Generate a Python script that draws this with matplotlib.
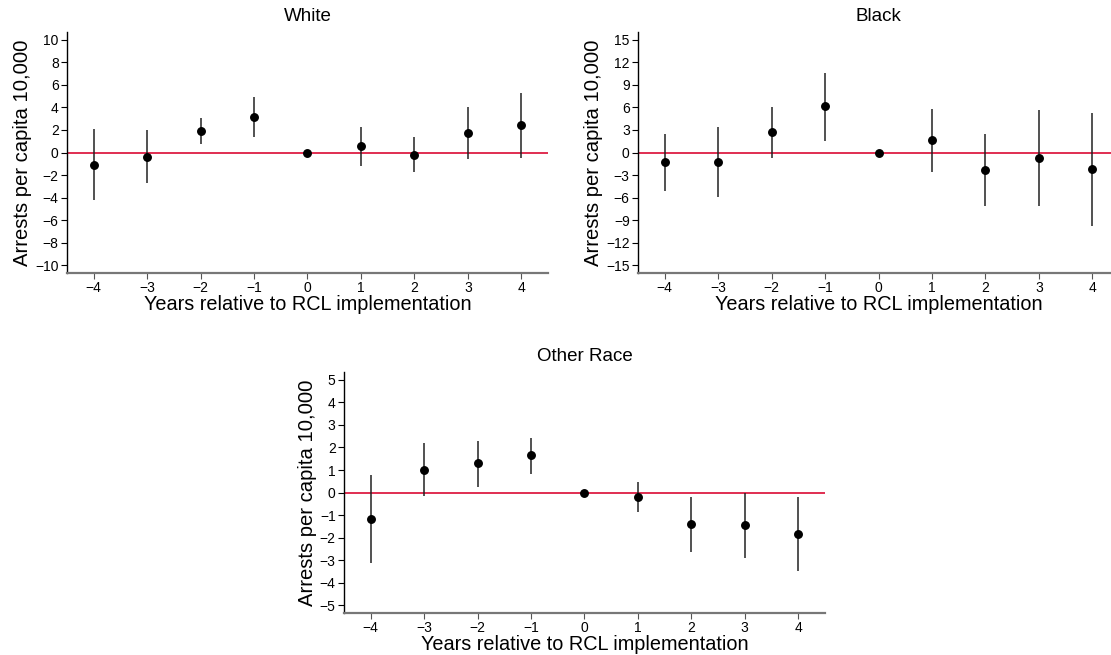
import matplotlib
matplotlib.use("Agg")
import matplotlib.pyplot as plt
import numpy as np

plt.rcParams["font.family"] = ["Liberation Sans", "DejaVu Sans"]

# event-time coefficients with 95% CI, by race
years = [-4, -3, -2, -1, 0, 1, 2, 3, 4]

white_coef = [-1.07, -0.36, 1.90, 3.17, 0.0, 0.56, -0.18, 1.72, 2.40]
white_lo = [-4.24, -2.73, 0.77, 1.39, 0.0, -1.19, -1.69, -0.62, -0.47]
white_hi = [2.08, 1.99, 3.03, 4.96, 0.0, 2.31, 1.34, 4.04, 5.28]

black_coef = [-1.29, -1.20, 2.71, 6.13, 0.0, 1.64, -2.35, -0.67, -2.26]
black_lo = [-5.06, -5.86, -0.71, 1.55, 0.0, -2.53, -7.19, -7.06, -9.76]
black_hi = [2.49, 3.42, 6.08, 10.65, 0.0, 5.81, 2.49, 5.68, 5.24]

other_coef = [-1.17, 1.02, 1.29, 1.65, 0.0, -0.19, -1.41, -1.45, -1.84]
other_lo = [-3.13, -0.15, 0.25, 0.83, 0.0, -0.88, -2.64, -2.91, -3.49]
other_hi = [0.77, 2.18, 2.31, 2.43, 0.0, 0.47, -0.22, 0.0, -0.22]

white_ticks = [-10, -8, -6, -4, -2, 0, 2, 4, 6, 8, 10]
black_ticks = [-15, -12, -9, -6, -3, 0, 3, 6, 9, 12, 15]
other_ticks = [-5, -4, -3, -2, -1, 0, 1, 2, 3, 4, 5]

ZERO_COLOR = "#dc143c"


def event_panel(ax, title, coef, lo, hi, yticks, ylim):
    ax.axhline(0, color=ZERO_COLOR, lw=1.25, zorder=1)
    ax.vlines(years, lo, hi, color="#222222", lw=1.1, zorder=2)
    ax.plot(years, coef, "o", color="black", ms=5.4, zorder=3)
    ax.set_xlim(-4.5, 4.5)
    ax.set_ylim(-ylim, ylim)
    ax.set_xticks(years)
    ax.set_xticklabels([str(y).replace("-", "\u2212") for y in years])
    ax.set_yticks(yticks)
    ax.set_yticklabels([str(t).replace("-", "\u2212") for t in yticks])
    ax.set_title(title, fontsize=13.5, pad=8)
    ax.set_xlabel("Years relative to RCL implementation", fontsize=14.3, labelpad=0)
    ax.set_ylabel("Arrests per capita 10,000", fontsize=14.6, labelpad=2)
    for side in ("top", "right"):
        ax.spines[side].set_visible(False)
    ax.spines["left"].set_color("black")
    ax.spines["left"].set_linewidth(1.0)
    ax.spines["bottom"].set_color("#777777")
    ax.spines["bottom"].set_linewidth(1.6)
    ax.tick_params(axis="both", labelsize=10, length=4, width=0.8, pad=2)
    ax.tick_params(axis="x", color="#555555")


fig = plt.figure(figsize=(11.11, 6.55), dpi=100)
ax_w = fig.add_axes([0.0603, 0.5832, 0.4329, 0.3679])
ax_b = fig.add_axes([0.5743, 0.5832, 0.4329, 0.3679])
ax_o = fig.add_axes([0.3096, 0.0641, 0.4329, 0.3679])

event_panel(ax_w, "White", white_coef, white_lo, white_hi, white_ticks, 10.7)
event_panel(ax_b, "Black", black_coef, black_lo, black_hi, black_ticks, 16.05)
event_panel(ax_o, "Other Race", other_coef, other_lo, other_hi, other_ticks, 5.35)

fig.savefig("out.png", dpi=100, facecolor="white")
